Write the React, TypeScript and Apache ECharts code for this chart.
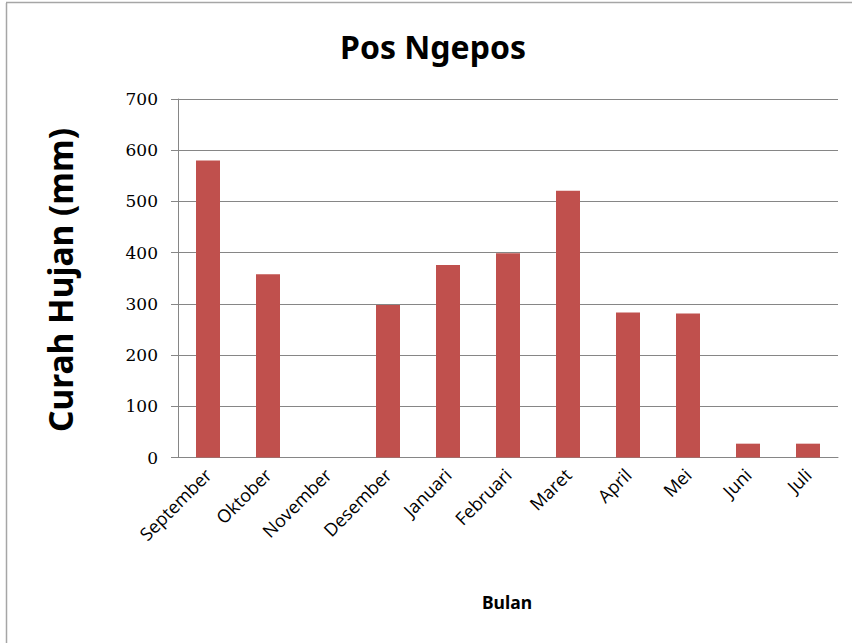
import React, { useEffect, useRef } from "react";
import * as echarts from "echarts";

// Monthly rainfall at Pos Ngepos station
const months = [
  "September",
  "Oktober",
  "November",
  "Desember",
  "Januari",
  "Februari",
  "Maret",
  "April",
  "Mei",
  "Juni",
  "Juli",
];
const rainfall = [580, 358, 0, 298, 376, 399, 521, 283, 281, 27, 27];

const chartTitle = "Pos Ngepos";
const xTitle = "Bulan";
const yTitle = "Curah Hujan (mm)";

export default function App() {
  const ref = useRef<HTMLDivElement>(null);

  useEffect(() => {
    if (!ref.current) return;
    const chart = echarts.init(ref.current, null, { renderer: "svg" });
    chart.setOption({
      animation: false,
      backgroundColor: "#ffffff",
      grid: { left: 178, right: 14, top: 99, bottom: 185.5, containLabel: false },
      xAxis: {
        type: "category",
        data: months,
        axisLine: { show: true, lineStyle: { color: "#868686", width: 1 } },
        axisTick: { show: false },
        axisLabel: {
          rotate: 45,
          interval: 0,
          margin: 14,
          fontFamily: "Open Sans",
          fontSize: 18,
          color: "#000000",
        },
        splitLine: { show: false },
      },
      yAxis: {
        type: "value",
        min: 0,
        max: 700,
        interval: 100,
        axisLine: { show: true, lineStyle: { color: "#868686", width: 1 } },
        axisTick: { show: true, length: 7, lineStyle: { color: "#868686" } },
        axisLabel: {
          margin: 20,
          fontFamily: "DejaVu Serif",
          fontSize: 17,
          color: "#000000",
        },
        splitLine: { show: true, lineStyle: { color: "#868686", width: 1 } },
      },
      series: [
        {
          type: "bar",
          data: rainfall,
          barWidth: "40%",
          itemStyle: { color: "#C0504D" },
        },
      ],
      graphic: [
        {
          type: "line",
          shape: { x1: 6.5, y1: 3, x2: 6.5, y2: 643 },
          style: { stroke: "#a6a6a6", lineWidth: 1.5 },
        },
        {
          type: "line",
          shape: { x1: 6, y1: 2.5, x2: 852, y2: 2.5 },
          style: { stroke: "#a6a6a6", lineWidth: 1.5 },
        },
        {
          type: "text",
          x: 433,
          y: 46,
          style: {
            text: chartTitle,
            fontFamily: "Noto Sans",
            fontWeight: "bold",
            fontSize: 32,
            fill: "#000000",
            textAlign: "center",
            textVerticalAlign: "middle",
          },
        },
        {
          type: "text",
          x: 507,
          y: 602,
          style: {
            text: xTitle,
            fontFamily: "Noto Sans",
            fontWeight: "bold",
            fontSize: 17.5,
            fill: "#000000",
            textAlign: "center",
            textVerticalAlign: "middle",
          },
        },
        {
          type: "text",
          x: 60,
          y: 280,
          rotation: Math.PI / 2,
          style: {
            text: yTitle,
            fontFamily: "Noto Sans",
            fontWeight: "bold",
            fontSize: 33.5,
            fill: "#000000",
            textAlign: "center",
            textVerticalAlign: "middle",
          },
        },
      ],
    });
    return () => chart.dispose();
  }, []);

  return (
    <div
      ref={ref}
      style={{ position: "absolute", left: 0, top: 0, width: 852, height: 643 }}
    />
  );
}
